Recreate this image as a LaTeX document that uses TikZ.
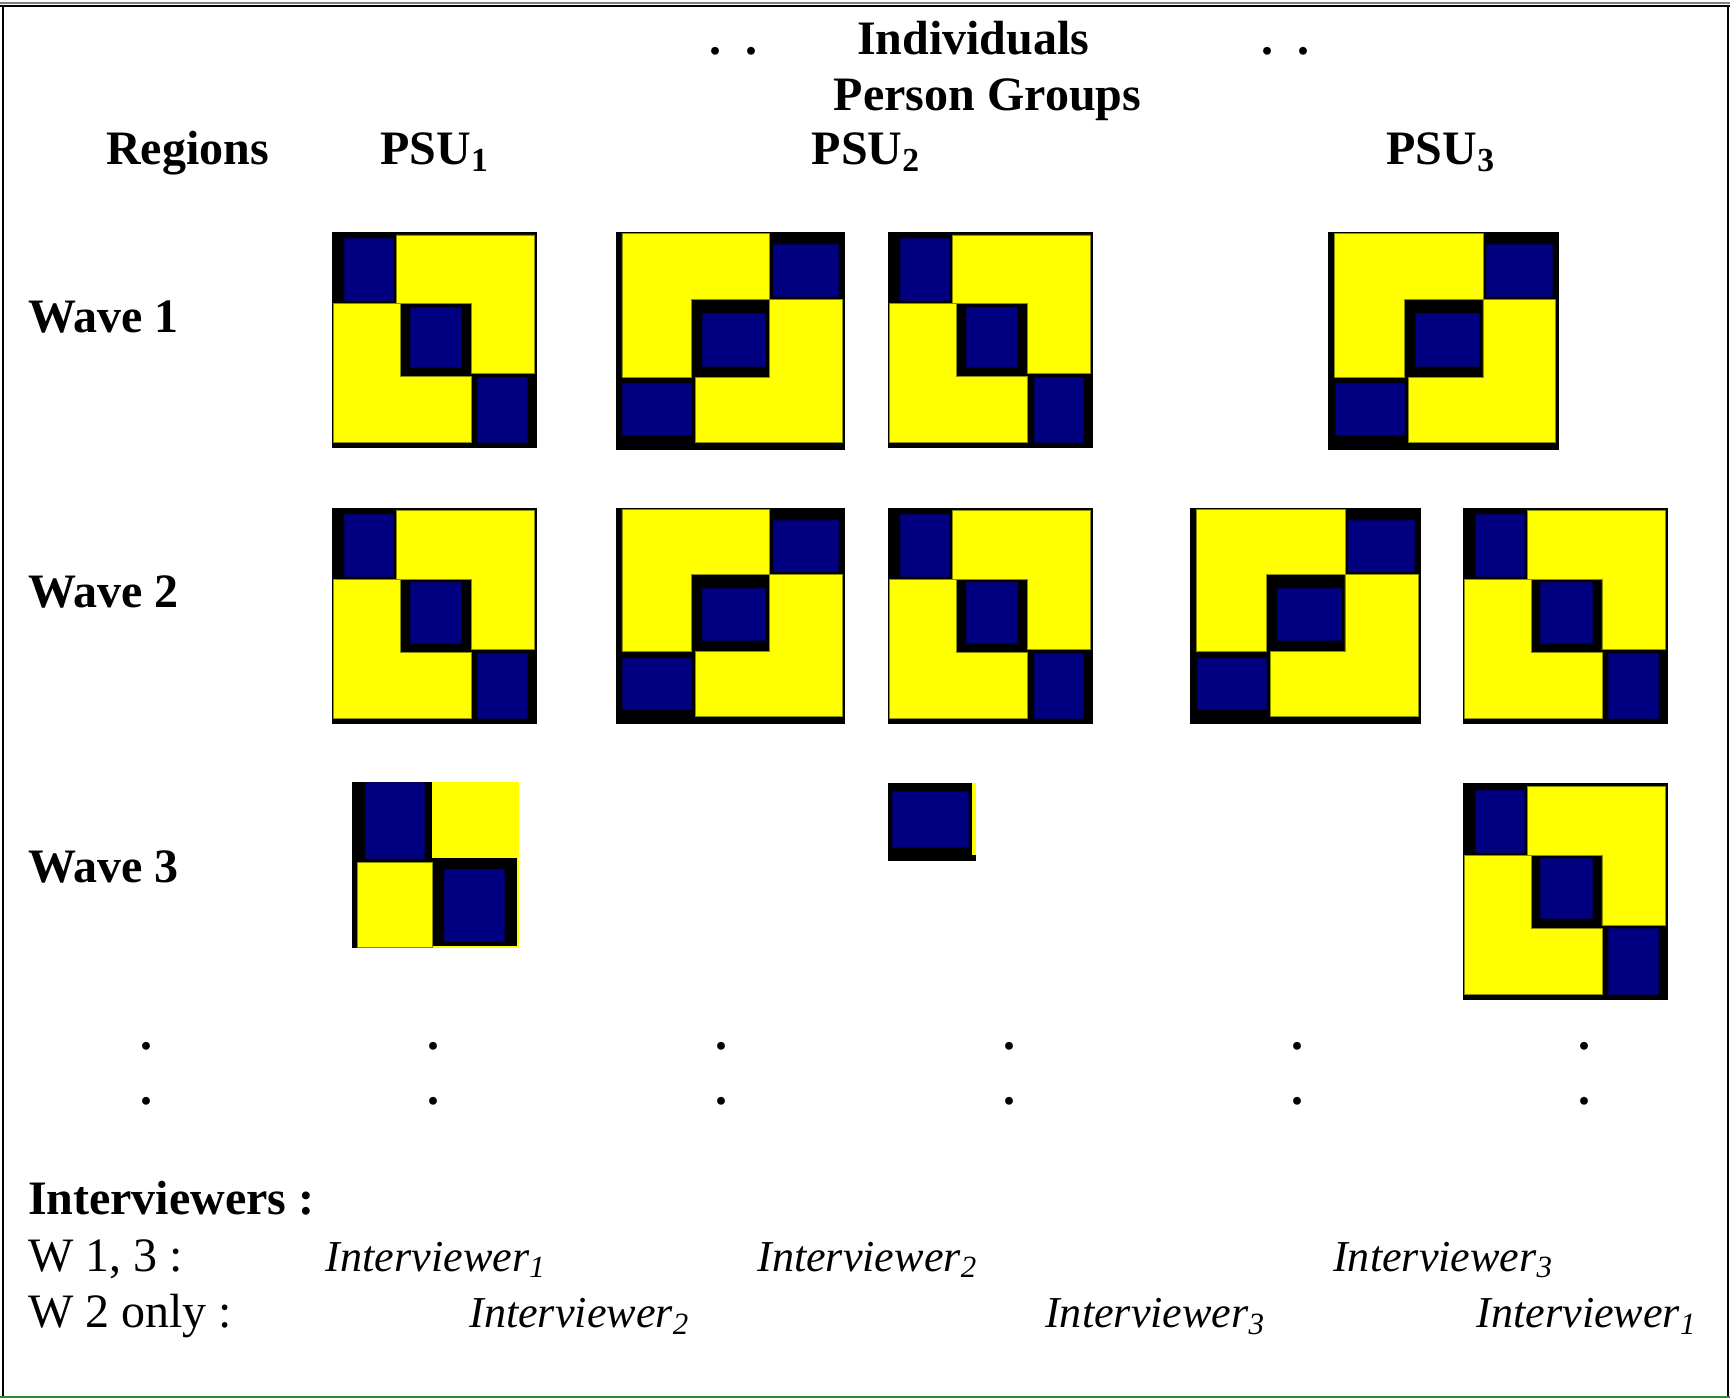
\documentclass[tikz,border=0pt]{standalone}
\usepackage{fontspec}
\setmainfont{Liberation Serif}
\definecolor{blkNavy}{HTML}{000080}
\definecolor{blkYellow}{HTML}{FFFF00}
\definecolor{frameGreen}{HTML}{2E8B2E}

\begin{document}
\begin{tikzpicture}[x=0.5pt, y=-0.5pt,
    hd/.style={font=\fontsize{21.75}{26}\selectfont\bfseries, inner sep=0pt},
    rm/.style={font=\fontsize{21.75}{26}\selectfont, inner sep=0pt},
    itv/.style={font=\fontsize{20}{24}\selectfont\itshape, inner sep=0pt, anchor=base west},
    ylw/.style={fill=blkYellow, draw=blkYellow!55!black, line width=0.3pt},
    nvy/.style={fill=blkNavy, draw=blkNavy!70!black, line width=0.3pt},
    blkA/.pic={
        \fill[black] (0,0) rectangle (1,1);
        \filldraw[ylw] (0.315,0.015) -- (0.984,0.015) -- (0.984,0.657) -- (0.677,0.657) -- (0.677,0.332) -- (0.315,0.332) -- cycle;
        \filldraw[ylw] (0.005,0.332) -- (0.331,0.332) -- (0.331,0.669) -- (0.677,0.669) -- (0.677,0.974) -- (0.005,0.974) -- cycle;
        \filldraw[nvy] (0.058,0.031) rectangle (0.300,0.317);
        \filldraw[nvy] (0.379,0.348) rectangle (0.628,0.626);
        \filldraw[nvy] (0.710,0.672) rectangle (0.951,0.974);
    },
    blkB/.pic={
        \fill[black] (0,0) rectangle (1,1);
        \filldraw[ylw] (0.027,0.009) -- (0.670,0.009) -- (0.670,0.310) -- (0.330,0.310) -- (0.330,0.666) -- (0.027,0.666) -- cycle;
        \filldraw[ylw] (0.670,0.310) -- (0.986,0.310) -- (0.986,0.966) -- (0.347,0.966) -- (0.347,0.666) -- (0.670,0.666) -- cycle;
        \filldraw[nvy] (0.685,0.058) rectangle (0.970,0.295);
        \filldraw[nvy] (0.377,0.374) rectangle (0.654,0.615);
        \filldraw[nvy] (0.030,0.696) rectangle (0.330,0.931);
    },
    blkHalf/.pic={
        \fill[black] (0,0) rectangle (1,1);
        \fill[blkYellow] (0.483,0) rectangle (1,1);
        \fill[black] (0.483,0.458) rectangle (0.989,0.990);
        \filldraw[nvy] (0.083,0) rectangle (0.434,0.458);
        \filldraw[ylw] (0.035,0.482) rectangle (0.480,1);
        \filldraw[nvy] (0.552,0.528) rectangle (0.914,0.960);
    },
    blkOne/.pic={
        \fill[black] (0,0) rectangle (1,1);
        \filldraw[nvy] (0.05,0.103) rectangle (0.905,0.829);
        \fill[blkYellow] (0.955,0) rectangle (1,0.927);
    }]
    \useasboundingbox (0,0) rectangle (1568,1267);

    % frame
    \draw[line width=0.9pt, gray] (0,2.5) -- (1568,2.5);
    \draw[line width=0.9pt] (0,5.8) -- (1568,5.8);
    \draw[line width=1pt] (3,5.8) -- (3,1267);
    \draw[line width=1pt] (1566,5.8) -- (1566,1267);
    \draw[line width=1pt, frameGreen] (0,1266.5) -- (1568,1266.5);

    % headings
    \node[hd, anchor=base] (indiv) at (882,49) {Individuals};
    \node[hd, anchor=base] (dotsL) at (665,49) {.\hspace{0.49em}.};
    \node[hd, anchor=base] (dotsR) at (1165,49) {.\hspace{0.49em}.};
    \node[hd, anchor=base] (groups) at (895,100) {Person Groups};
    \node[hd, anchor=base] (regions) at (170,149) {Regions};
    \node[hd, anchor=base] (psuA) at (394,149) {PSU\textsubscript{1}};
    \node[hd, anchor=base] (psuB) at (785,149) {PSU\textsubscript{2}};
    \node[hd, anchor=base] (psuC) at (1306,149) {PSU\textsubscript{3}};

    \node[hd, anchor=base west] (waveA) at (25,301) {Wave 1};
    \node[hd, anchor=base west] (waveB) at (25,551) {Wave 2};
    \node[hd, anchor=base west] (waveC) at (25,800) {Wave 3};

    % wave 1
    \pic[xscale=186, yscale=196] at (301,210) {blkA};
    \pic[xscale=208, yscale=198] at (558,210) {blkB};
    \pic[xscale=186, yscale=196] at (805,210) {blkA};
    \pic[xscale=209, yscale=198] at (1204,210) {blkB};
    % wave 2
    \pic[xscale=186, yscale=196] at (301,460) {blkA};
    \pic[xscale=208, yscale=196] at (558,460) {blkB};
    \pic[xscale=186, yscale=196] at (805,460) {blkA};
    \pic[xscale=209, yscale=196] at (1079,460) {blkB};
    \pic[xscale=186, yscale=196] at (1326,460) {blkA};
    % wave 3
    \pic[xscale=151, yscale=150] at (319,709) {blkHalf};
    \pic[xscale=80, yscale=70] at (805,710) {blkOne};
    \pic[xscale=186, yscale=196] at (1326,710) {blkA};

    % vertical dots
    \foreach \cx [count=\i] in {133,393,654,915,1176,1436} {
        \node[hd, anchor=base] (vdA\i) at (\cx,951) {.};
        \node[hd, anchor=base] (vdB\i) at (\cx,1001) {.};
    }

    % interviewers
    \node[hd, anchor=base west] (ivw) at (25,1101) {Interviewers :};
    \node[rm, anchor=base west] (wOdd) at (25,1152) {W 1, 3 :};
    \node[rm, anchor=base west] (wTwo) at (25,1203) {W 2 only :};
    \node[itv] (ivA) at (295,1152) {Interviewer\textsubscript{1}};
    \node[itv] (ivB) at (686,1152) {Interviewer\textsubscript{2}};
    \node[itv] (ivC) at (1208,1152) {Interviewer\textsubscript{3}};
    \node[itv] (ivD) at (425,1203) {Interviewer\textsubscript{2}};
    \node[itv] (ivE) at (947,1203) {Interviewer\textsubscript{3}};
    \node[itv] (ivF) at (1338,1203) {Interviewer\textsubscript{1}};
\end{tikzpicture}
\end{document}
